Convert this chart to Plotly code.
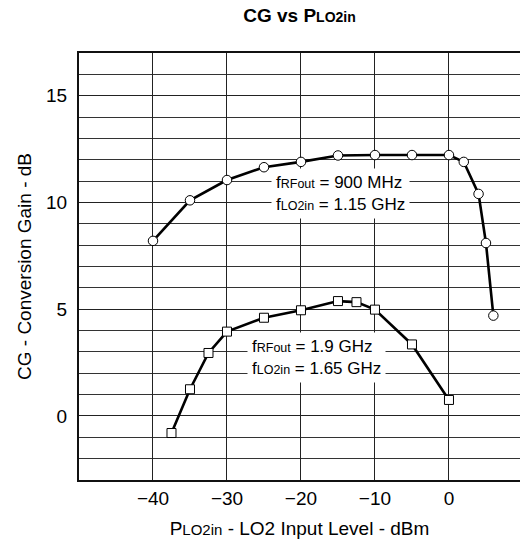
import plotly.graph_objects as go

# Data
p_lo2_a = [-40, -35, -30, -25, -20, -15, -10, -5, 0, 2, 4, 5, 6]
cg_900mhz = [8.2, 10.1, 11.05, 11.65, 11.9, 12.2, 12.22, 12.22, 12.22, 11.9, 10.4, 8.1, 4.7]

p_lo2_b = [-37.5, -35, -32.5, -30, -25, -20, -15, -12.5, -10, -5, 0]
cg_1900mhz = [-0.8, 1.25, 2.95, 3.95, 4.6, 4.95, 5.38, 5.33, 4.98, 3.35, 0.75]

x_ticks = [-40, -30, -20, -10, 0]
y_ticks = [0, 5, 10, 15]

FONT = "Liberation Sans, Arial, sans-serif"
SUB = "<span style='font-size:12.5px'>{}</span>"

fig = go.Figure()
fig.add_trace(go.Scatter(
    x=p_lo2_a, y=cg_900mhz, mode="lines+markers",
    line=dict(color="black", width=2.6),
    marker=dict(symbol="circle", size=9.5, color="white", line=dict(color="black", width=1)),
    showlegend=False, cliponaxis=False))
fig.add_trace(go.Scatter(
    x=p_lo2_b, y=cg_1900mhz, mode="lines+markers",
    line=dict(color="black", width=2.6),
    marker=dict(symbol="square", size=9, color="white", line=dict(color="black", width=1)),
    showlegend=False, cliponaxis=False))

fig.add_annotation(
    x=-24, y=10.44, xref="x", yref="y", xanchor="left", yanchor="middle",
    text="f" + SUB.format("RFout") + " = 900 MHz<br>f" + SUB.format("LO2in") + " = 1.15 GHz",
    align="left", showarrow=False, bgcolor="white", borderpad=4,
    font=dict(family=FONT, size=17, color="black"))
fig.add_annotation(
    x=-27.35, y=2.76, xref="x", yref="y", xanchor="left", yanchor="middle",
    text="f" + SUB.format("RFout") + " = 1.9 GHz<br>f" + SUB.format("LO2in") + " = 1.65 GHz",
    align="left", showarrow=False, bgcolor="white", borderpad=4,
    font=dict(family=FONT, size=17, color="black"))

fig.update_layout(
    width=520, height=546,
    margin=dict(l=79, r=0, t=53, b=66, autoexpand=False),
    paper_bgcolor="white", plot_bgcolor="white",
    font=dict(family=FONT, color="black"),
    title=dict(text="<b>CG vs P<span style='font-size:14px'>LO2in</span></b>",
               x=0.5, xref="paper", xanchor="center", y=0.972, yanchor="middle",
               font=dict(family=FONT, size=19, color="black")),
)
fig.update_xaxes(
    range=[-50, 9.6], tickvals=x_ticks, ticktext=["\u221240", "\u221230", "\u221220", "\u221210", "0"],
    showgrid=True, gridcolor="#222", gridwidth=1, automargin=False,
    zeroline=False, showline=True, linecolor="#111", linewidth=2, mirror=True,
    ticks="", tickfont=dict(family=FONT, size=19),
    title=dict(text="P" + "<span style='font-size:15px'>LO2in</span>" + " - LO2 Input Level - dBm",
               font=dict(family=FONT, size=19), standoff=14),
)
fig.update_yaxes(
    range=[-3, 17], tickvals=y_ticks, automargin=False,
    showgrid=True, gridcolor="#222", gridwidth=1,
    minor=dict(dtick=1, showgrid=True, gridcolor="#333", gridwidth=1),
    zeroline=False, showline=True, linecolor="#111", linewidth=2, mirror=False,
    ticks="", tickfont=dict(family=FONT, size=19), ticklabelstandoff=6,
    title=dict(text="CG - Conversion Gain - dB", font=dict(family=FONT, size=19), standoff=9),
)

fig.write_html("out.html", config={"displayModeBar": False, "staticPlot": True})

# remove the default page margin so the 520x546 figure fills the window exactly
with open("out.html", "r", encoding="utf-8") as fh:
    html = fh.read()
html = html.replace("<head>", "<head><style>html,body{margin:0;padding:0;overflow:hidden;}</style>", 1)
with open("out.html", "w", encoding="utf-8") as fh:
    fh.write(html)
